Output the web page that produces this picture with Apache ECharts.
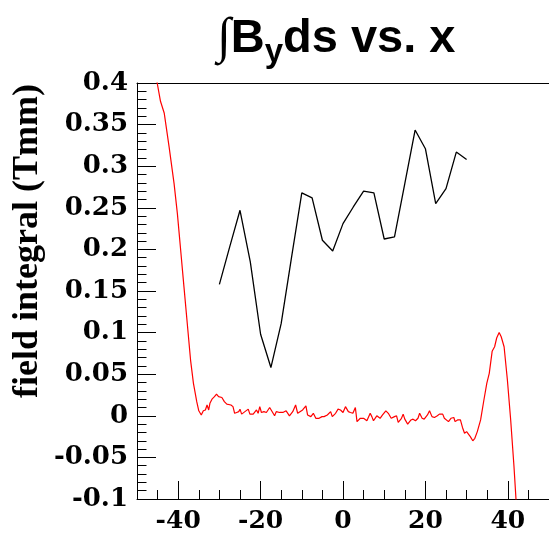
<!DOCTYPE html>
<html>
<head>
<meta charset="utf-8">
<script src="https://cdn.jsdelivr.net/npm/echarts@6/dist/echarts.min.js"></script>
<style>
html,body{margin:0;padding:0;background:#fff;}
#chart{width:549px;height:538px;}
</style>
</head>
<body>
<div id="chart"></div>
<script>
// ---- data ----
const titleParts = ['∫', 'B', 'y', 'ds vs. x'];
const yAxisTitle = 'field integral (Tmm)';
const xTickValues = [-40, -20, 0, 20, 40];
const yTickValues = [-0.1, -0.05, 0, 0.05, 0.1, 0.15, 0.2, 0.25, 0.3, 0.35, 0.4];

// black curve: measurement points
const blackX = [-30, -27.5, -25, -22.5, -20, -17.5, -15, -12.5, -10, -7.5, -5, -2.5, 0, 2.5, 5, 7.5, 10, 12.5, 15, 17.5, 20, 22.5, 25, 27.5, 30];
const blackY = [0.158, 0.203, 0.247, 0.185, 0.098, 0.058, 0.111, 0.19, 0.268, 0.262, 0.211, 0.198, 0.231, 0.251, 0.270, 0.268, 0.2125, 0.215, 0.279, 0.3435, 0.321, 0.255, 0.273, 0.317, 0.308];

// red curve: [x, value]
const redCurve = [
  [-46.0, 0.425], [-45.1, 0.400], [-44.3, 0.378], [-43.4, 0.364], [-42.2, 0.323], [-41.0, 0.279],
  [-40.2, 0.243], [-39.4, 0.199], [-38.6, 0.155], [-37.8, 0.111], [-37.0, 0.067], [-36.3, 0.039],
  [-35.5, 0.017], [-35.0, 0.006], [-34.4, 0.001], [-33.9, 0.006], [-33.4, 0.007], [-33.0, 0.013],
  [-32.6, 0.007], [-32.3, 0.015], [-31.8, 0.020], [-31.2, 0.023], [-30.7, 0.026], [-30.2, 0.023],
  [-29.8, 0.021], [-29.4, 0.022], [-28.8, 0.017], [-28.2, 0.014], [-27.8, 0.012], [-27.2, 0.013],
  [-26.7, 0.011], [-26.3, 0.003], [-25.8, 0.004], [-25.3, 0.005], [-25.0, 0.008], [-24.6, 0.002],
  [-23.8, 0.005], [-23.0, 0.008], [-22.6, 0.002], [-21.8, 0.002], [-21.4, 0.003], [-21.0, 0.007],
  [-20.6, 0.003], [-20.2, 0.011], [-19.8, 0.004], [-19.2, 0.005], [-18.6, 0.004], [-17.8, 0.010],
  [-17.4, 0.011], [-16.6, 0.000], [-16.2, 0.005], [-15.4, 0.004], [-14.6, 0.004], [-13.8, 0.006],
  [-13.0, 0.000], [-12.2, 0.005], [-11.5, 0.013], [-11.0, 0.003], [-10.6, 0.004], [-9.8, 0.007],
  [-9.0, 0.012], [-8.6, 0.001], [-7.8, -0.001], [-7.2, 0.003], [-6.6, -0.003], [-5.8, -0.003],
  [-5.1, -0.001], [-4.6, -0.001], [-3.8, 0.001], [-3.0, 0.005], [-2.6, -0.001], [-1.8, 0.003],
  [-1.2, 0.008], [-0.6, 0.007], [0.0, 0.004], [0.6, 0.011], [1.3, 0.005], [1.8, 0.004],
  [2.4, 0.003], [3.0, 0.010], [3.4, -0.007], [4.2, -0.003], [5.0, -0.003], [5.8, -0.006],
  [6.6, 0.003], [7.0, -0.001], [7.4, -0.006], [8.2, 0.000], [8.6, 0.002], [9.0, -0.003],
  [9.6, 0.001], [10.4, 0.006], [11.0, 0.003], [11.7, -0.003], [12.5, -0.001], [13.0, 0.000],
  [13.4, -0.008], [14.2, -0.003], [14.6, 0.002], [15.0, -0.004], [15.7, -0.010], [16.5, -0.005],
  [17.0, -0.004], [17.6, -0.006], [18.2, -0.003], [18.6, 0.003], [19.2, -0.003], [19.7, -0.004],
  [20.5, 0.001], [21.0, 0.006], [21.6, -0.001], [22.2, -0.002], [22.9, 0.000], [23.4, 0.002],
  [24.2, 0.002], [24.6, -0.003], [25.0, -0.001], [25.6, -0.007], [26.2, -0.003], [26.9, -0.002],
  [27.2, -0.007], [27.8, -0.005], [28.5, -0.005], [29.0, -0.014], [29.5, -0.021], [30.0, -0.019],
  [30.4, -0.019], [30.9, -0.025], [31.5, -0.030], [32.0, -0.027], [32.6, -0.019], [33.4, -0.005],
  [34.2, 0.019], [34.9, 0.039], [35.5, 0.051], [36.2, 0.0775], [36.8, 0.083], [37.3, 0.0935],
  [37.9, 0.100], [38.4, 0.095], [39.1, 0.083], [39.9, 0.043], [40.7, -0.005], [41.5, -0.061],
  [42.0, -0.101], [42.6, -0.160]
];

// ---- chart ----
const chart = echarts.init(document.getElementById('chart'), null, {renderer: 'canvas'});
const tickFont = 'DejaVu Serif';
const fmtY = v => String(parseFloat(v.toFixed(2)));

const baseX = {
  type: 'value', min: -50, max: 50, gridIndex: 0,
  splitLine: {show: false}
};

const option = {
  backgroundColor: '#ffffff',
  animation: false,
  title: {
    left: 212, top: 5,
    text: '{i|' + titleParts[0] + '}{b|' + titleParts[1] + '}{s|' + titleParts[2] + '}{b|' + titleParts[3] + '}',
    textStyle: {
      rich: {
        i: {fontFamily: 'Liberation Serif', fontSize: 50, color: '#000'},
        b: {fontFamily: 'Liberation Sans', fontWeight: 'bold', fontSize: 47, color: '#000'},
        s: {fontFamily: 'Liberation Sans', fontWeight: 'bold', fontSize: 33, color: '#000', padding: [26, 0, 0, 0]}
      }
    }
  },
  grid: {left: 137, top: 83, right: -3.5, bottom: 39, containLabel: false},
  xAxis: [
    Object.assign({}, baseX, {
      position: 'bottom', interval: 5,
      axisLine: {show: true, onZero: false, lineStyle: {color: '#000', width: 1}},
      axisTick: {show: true, inside: true, length: 9, lineStyle: {color: '#000', width: 1}},
      axisLabel: {show: false}
    }),
    Object.assign({}, baseX, {
      position: 'bottom',
      axisLine: {show: false, onZero: false},
      axisTick: {show: true, inside: true, length: 18, customValues: xTickValues, lineStyle: {color: '#000', width: 1}},
      axisLabel: {show: true, customValues: xTickValues, margin: 10, fontFamily: tickFont, fontWeight: 'bold', fontSize: 25, color: '#000'}
    }),
    Object.assign({}, baseX, {
      position: 'top',
      axisLine: {show: true, onZero: false, lineStyle: {color: '#000', width: 1}},
      axisTick: {show: false},
      axisLabel: {show: false}
    })
  ],
  yAxis: [{
    type: 'value', min: yTickValues[0], max: yTickValues[yTickValues.length - 1], interval: 0.05,
    position: 'left',
    splitLine: {show: false},
    axisLine: {show: true, onZero: false, lineStyle: {color: '#000', width: 1}},
    axisTick: {show: true, inside: true, length: 19, lineStyle: {color: '#000', width: 1}},
    minorTick: {show: true, splitNumber: 5, length: 9.5, lineStyle: {color: '#000', width: 1}},
    axisLabel: {show: true, margin: 9, fontFamily: tickFont, fontWeight: 'bold', fontSize: 26, color: '#000', formatter: fmtY}
  }],
  graphic: [{
    type: 'text', x: 28, y: 84, rotation: Math.PI / 2,
    style: {text: yAxisTitle, fontFamily: 'Liberation Serif', fontWeight: 'bold', fontSize: 36, fill: '#000', align: 'right', verticalAlign: 'middle'}
  }],
  series: [
    {
      type: 'line', xAxisIndex: 0, yAxisIndex: 0, showSymbol: false, symbol: 'none', clip: true,
      data: blackX.map((x, i) => [x, blackY[i]]),
      lineStyle: {color: '#000', width: 1.3}
    },
    {
      type: 'line', xAxisIndex: 0, yAxisIndex: 0, showSymbol: false, symbol: 'none', clip: true,
      data: redCurve,
      lineStyle: {color: '#ff0000', width: 1.2}
    }
  ]
};
chart.setOption(option);
</script>
</body>
</html>
